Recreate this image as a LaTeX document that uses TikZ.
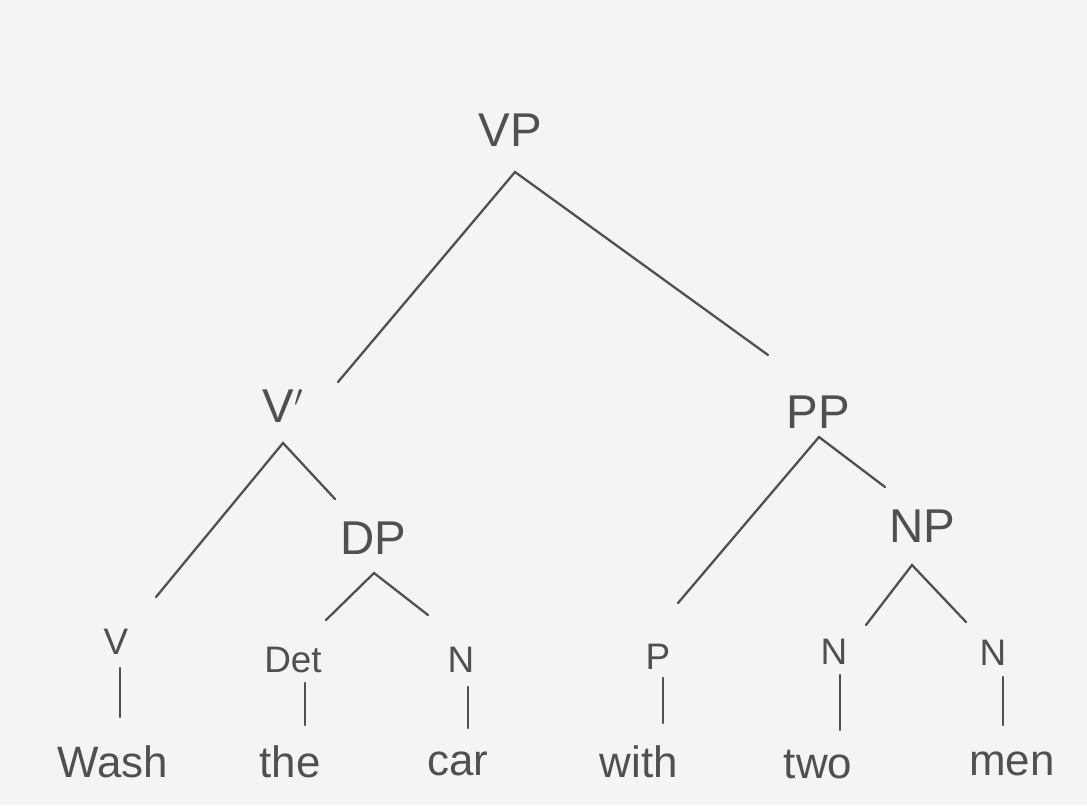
\documentclass[tikz,border=0pt]{standalone}
\usepackage{fontspec}
\setmainfont{Liberation Sans}
\usepackage{xcolor}
\usetikzlibrary{positioning}
\definecolor{paper}{RGB}{244,244,244}
\definecolor{pencil}{RGB}{80,80,80}

\begin{document}
\begin{tikzpicture}[
  x=0.02cm, y=-0.02cm,
  phr/.style={text=pencil, inner sep=0pt, font=\fontsize{27}{27}\selectfont},
  pre/.style={text=pencil, inner sep=0pt, font=\fontsize{21}{21}\selectfont},
  word/.style={text=pencil, inner sep=0pt, font=\fontsize{25}{25}\selectfont},
  branch/.style={draw=pencil, line width=1.3pt, line cap=round}
]

% -- paper ------------------------------------------------------------------
\fill[paper] (0,0) rectangle (1087,805);
\useasboundingbox (0,0) rectangle (1087,805);

% -- Phrase nodes -----------------------------------------------------------
\node[phr] (vp)   at (510,130) {VP};
\node[phr] (vbar) at (283,406) {V$'$};
\node[phr] (pp)   at (818,412) {PP};
\node[phr] (dp)   at (373,538) {DP};
\node[phr] (np)   at (922,526) {NP};

% -- Preterminals -----------------------------------------------------------
\node[pre] (v)   at (116,642) {V};
\node[pre] (det) at (293,660) {Det};
\node[pre] (n1)  at (461,660) {N};
\node[pre] (p)   at (658,657) {P};
\node[pre] (n2)  at (834,652) {N};
\node[pre] (n3)  at (993,653) {N};

% -- Words ------------------------------------------------------------------
\node[word] (wash) at (113,762) {Wash};
\node[word] (the)  at (290,762) {the};
\node[word] (car)  at (458,764) {car};
\node[word] (with) at (639,762) {with};
\node[word] (two)  at (818,764) {two};
\node[word] (men)  at (1012,764) {men};

% -- Branch points ----------------------------------------------------------
\coordinate (vp-a)   at (515,172);
\coordinate (vp-l)   at (338,382);
\coordinate (vp-r)   at (768,355);
\coordinate (vbar-a) at (283,443);
\coordinate (vbar-l) at (156,597);
\coordinate (vbar-r) at (335,499);
\coordinate (dp-a)   at (374,573);
\coordinate (dp-l)   at (326,620);
\coordinate (dp-r)   at (428,615);
\coordinate (pp-a)   at (819,437);
\coordinate (pp-l)   at (678,603);
\coordinate (pp-r)   at (885,487);
\coordinate (np-a)   at (912,565);
\coordinate (np-l)   at (866,625);
\coordinate (np-r)   at (966,622);

% -- Binary branches --------------------------------------------------------
\draw[branch] (vp-l) -- (vp-a) -- (vp-r);
\draw[branch] (vbar-l) -- (vbar-a) -- (vbar-r);
\draw[branch] (dp-l) -- (dp-a) -- (dp-r);
\draw[branch] (pp-l) -- (pp-a) -- (pp-r);
\draw[branch] (np-l) -- (np-a) -- (np-r);

% -- Unary branches to words ------------------------------------------------
\draw[branch] (120,668) -- (120,717);
\draw[branch] (305,683) -- (305,725);
\draw[branch] (468,687) -- (468,728);
\draw[branch] (663,678) -- (663,723);
\draw[branch] (840,675) -- (840,730);
\draw[branch] (1003,677) -- (1003,725);

\end{tikzpicture}
\end{document}
